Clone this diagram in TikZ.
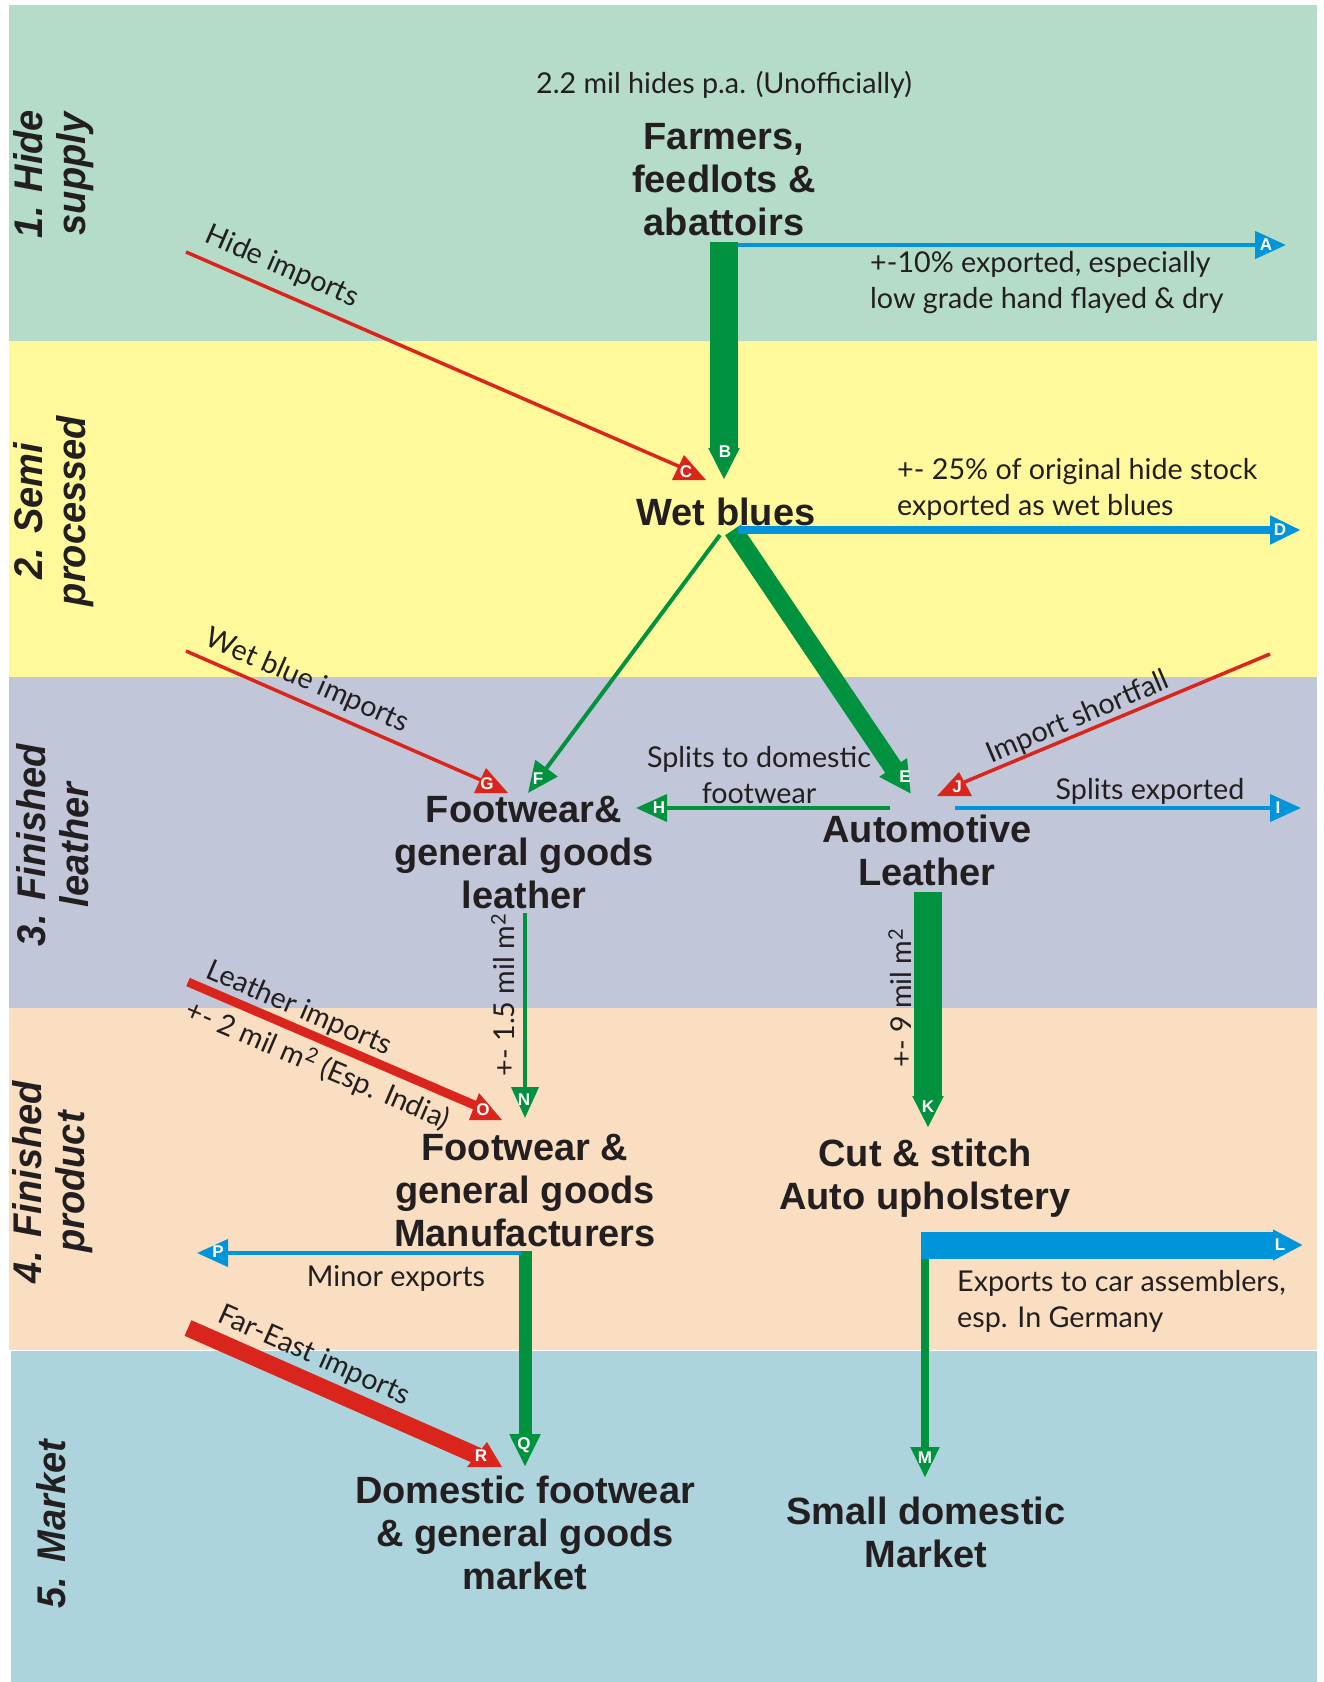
\documentclass[tikz,border=0pt]{standalone}
\usepackage{fontspec}
\setmainfont{Liberation Sans}
\newfontfamily\lightfont{Lato}
\newfontfamily\sidefont{Liberation Sans}[FakeStretch=0.95]
\usetikzlibrary{arrows.meta}
\definecolor{bandA}{HTML}{B5DCC9}
\definecolor{bandB}{HTML}{FFF99B}
\definecolor{bandC}{HTML}{C1C6D9}
\definecolor{bandD}{HTML}{F9DEC1}
\definecolor{bandE}{HTML}{ADD4DD}
\definecolor{fgreen}{HTML}{00923F}
\definecolor{fblue}{HTML}{0095DA}
\definecolor{fred}{HTML}{DA251D}
\definecolor{ink}{HTML}{231F20}
\begin{document}
\begin{tikzpicture}[x=1pt,y=-1pt,
  big/.style={font=\fontsize{38}{43}\selectfont\bfseries, text=ink, align=center, inner sep=0pt},
  lbl/.style={font=\lightfont\fontsize{28.7}{36}\selectfont, text=ink, inner sep=0pt},
  side/.style={font=\sidefont\fontsize{40}{43}\selectfont\bfseries\itshape, text=ink, align=center, inner sep=0pt, rotate=90},
  tipl/.style={font=\fontsize{17}{17}\selectfont\bfseries, text=white, inner sep=0pt},
  arr/.style={-{Triangle[length=31pt,width=27pt]}},
  pencil/.style={-{Triangle[length=32pt,width=29pt]}},
  gline/.style={draw=fgreen},
  bline/.style={draw=fblue},
  rline/.style={draw=fred},
  redhead/.style={fill=fred}
]
\useasboundingbox (0,0) rectangle (1324,1682);
% bands
\fill[bandA] (9,5) rectangle (1317,341);
\fill[bandB] (9,341) rectangle (1317,677);
\fill[bandC] (9,677) rectangle (1317,1008);
\fill[bandD] (9,1008) rectangle (1317,1350);
\fill[bandE] (11,1351) rectangle (1317,1682);

% side labels
\node[side] (s1) at (54,174) {1. Hide\\supply};
\node[side] (s2) at (54,511) {2. Semi\\processed};
\node[side] (s3) at (53,845) {3. Finished\\leather};
\node[side] (s4) at (53,1182) {4. Finished\\product};
\node[side] (s5) at (51,1524) {5. Market};

% main nodes
\node[big] (farm) at (724,180) {Farmers,\\feedlots \&\\abattoirs};
\node[big] (wet) at (726,512) {Wet blues};
\node[big] (fgl) at (524,853) {Footwear\&\\general goods\\leather};
\node[big] (auto) at (927,850) {Automotive\\Leather};
\node[big] (fman) at (525,1191) {Footwear \&\\general goods\\Manufacturers};
\node[big] (cut) at (925,1178) {Cut \& stitch\\Auto upholstery};
\node[big] (dom) at (525,1533) {Domestic footwear\\\& general goods\\market};
\node[big] (small) at (926,1532) {Small domestic\\Market};

% text labels
\node[lbl] (hides) at (724,85) {2.2 mil hides p.a. (Unofficially)};
\node[lbl, align=left, anchor=west] (expA) at (870,283) {+-10\% exported, especially\\low grade hand flayed \& dry};
\node[lbl, align=left, anchor=west] (expD) at (897,489) {+- 25\% of original hide stock\\exported as wet blues};
\node[lbl, align=center] (splitd) at (759,775) {Splits to domestic\\footwear};
\node[lbl] (splite) at (1150,791) {Splits exported};
\node[lbl] (minor) at (396,1278) {Minor exports};
\node[lbl, align=left, anchor=west] (expL) at (957,1301) {Exports to car assemblers,\\esp. In Germany};
\node[lbl, rotate=-23.5] (hideimp) at (282,267) {Hide imports};
\node[lbl, rotate=-23.6] (wbimp) at (307,681) {Wet blue imports};
\node[lbl, rotate=-23.2] (limp) at (299,1009) {Leather imports};
\node[lbl, rotate=-23.2] (lqty) at (318,1065) {+- 2 mil m\textsuperscript{2} (Esp. India)};
\node[lbl, rotate=-23.9] (feimp) at (314,1356) {Far-East imports};
\node[lbl, rotate=23.1] (short) at (1078,718) {Import shortfall};
\node[lbl, rotate=90] (qty15) at (503,995) {+- 1.5 mil m\textsuperscript{2}};
\node[lbl, rotate=90] (qty9) at (900,998) {+- 9 mil m\textsuperscript{2}};

% connector end points
\coordinate (aS) at (738,245); \coordinate (aT) at (1286,245);
\coordinate (bS) at (724,242); \coordinate (bT) at (724,480);
\coordinate (cS) at (186,252); \coordinate (cE) at (692,472); \coordinate (cT) at (706,480);
\coordinate (dS) at (738,530); \coordinate (dT) at (1301,530);
\coordinate (eS) at (733,530); \coordinate (eT) at (911,794);
\coordinate (fS) at (720,535); \coordinate (fT) at (528,793);
\coordinate (gS) at (186,651); \coordinate (gE) at (490,784); \coordinate (gT) at (508,793);
\coordinate (hS) at (890,808); \coordinate (hT) at (636,808);
\coordinate (iS) at (955,808); \coordinate (iT) at (1301,808);
\coordinate (jS) at (1270,654); \coordinate (jE) at (955,786); \coordinate (jT) at (937,796);
\coordinate (kS) at (928,892); \coordinate (kT) at (928,1128);
\coordinate (lS) at (921,1245); \coordinate (lT) at (1303,1245);
\coordinate (mS) at (925,1258); \coordinate (mT) at (925,1478);
\coordinate (nS) at (525,913); \coordinate (nT) at (525,1118);
\coordinate (oS) at (188,982); \coordinate (oE) at (486,1110); \coordinate (oT) at (502,1120);
\coordinate (pS) at (521,1253); \coordinate (pT) at (197,1253);
\coordinate (qS) at (525,1251); \coordinate (qT) at (525,1467);
\coordinate (rS) at (188,1328); \coordinate (rE) at (478,1456); \coordinate (rT) at (502,1467);

% green flows
\draw[gline, line width=28pt, pencil] (bS) -- (bT);
\draw[gline, line width=19pt, -{Triangle[length=32pt,width=31pt]}] (eS) -- (eT);
\draw[gline, line width=4pt, arr] (fS) -- (fT);
\draw[gline, line width=4pt, arr] (hS) -- (hT);
\draw[gline, line width=28pt, pencil] (kS) -- (kT);
\draw[gline, line width=8pt, arr] (mS) -- (mT);
\draw[gline, line width=4pt, arr] (nS) -- (nT);
\draw[gline, line width=13pt, -{Triangle[length=33pt,width=29pt]}] (qS) -- (qT);

% blue exports
\draw[bline, line width=4.5pt, arr] (aS) -- (aT);
\draw[bline, line width=8pt, arr] (dS) -- (dT);
\draw[bline, line width=4pt, arr] (iS) -- (iT);
\draw[bline, line width=27pt, -{Triangle[length=30pt,width=29pt]}] (lS) -- (lT);
\draw[bline, line width=4pt, arr] (pS) -- (pT);

% red imports
\draw[rline, line width=3.5pt] (cS) -- (cE);
\fill[redhead] (cT) -- ++(-34,0) -- ++(12,-25) -- cycle;
\draw[rline, line width=3.5pt] (gS) -- (gE);
\fill[redhead] (gT) -- ++(-34,0) -- ++(12,-25) -- cycle;
\draw[rline, line width=3.5pt] (jS) -- (jE);
\fill[redhead] (jT) -- ++(35,0) -- ++(-13,-24) -- cycle;
\draw[rline, line width=9pt] (oS) -- (oE);
\fill[redhead] (oT) -- ++(-33,0) -- ++(10,-27) -- cycle;
\draw[rline, line width=17pt] (rS) -- (rE);
\fill[redhead] (rT) -- ++(-35,0) -- ++(20,-25) -- cycle;

% letters on heads
\node[tipl] (lA) at (1266,245) {A};
\node[tipl] (lB) at (725,452) {B};
\node[tipl] (lC) at (686,472) {C};
\node[tipl] (lD) at (1280,530) {D};
\node[tipl] (lE) at (905,777) {E};
\node[tipl] (lF) at (538,779) {F};
\node[tipl] (lG) at (487,784) {G};
\node[tipl] (lH) at (659,808) {H};
\node[tipl] (lI) at (1278,808) {I};
\node[tipl] (lJ) at (957,787) {J};
\node[tipl] (lK) at (928,1107) {K};
\node[tipl] (lL) at (1280,1245) {L};
\node[tipl] (lM) at (925,1458) {M};
\node[tipl] (lN) at (524,1100) {N};
\node[tipl] (lO) at (483,1110) {O};
\node[tipl] (lP) at (218,1252) {P};
\node[tipl] (lQ) at (524,1445) {Q};
\node[tipl] (lR) at (481,1456) {R};
\end{tikzpicture}
\end{document}
